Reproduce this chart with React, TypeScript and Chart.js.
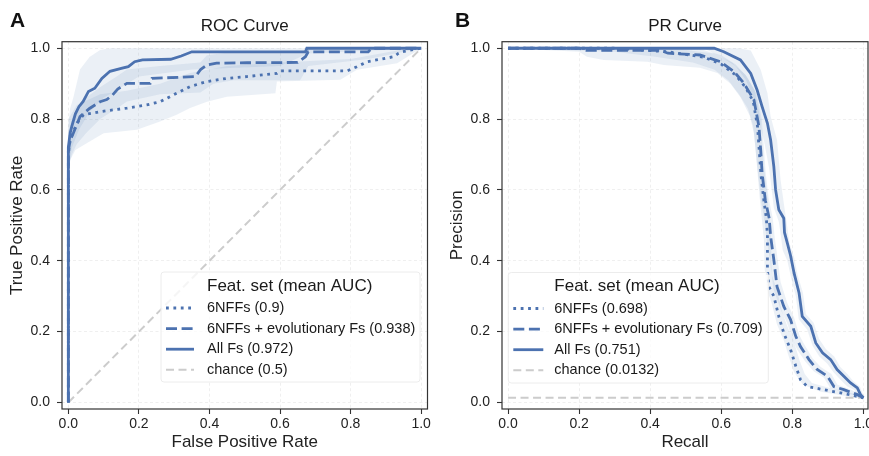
import React, { useEffect, useRef } from 'react';
import { Chart, registerables } from 'chart.js';

Chart.register(...registerables);

const FONT = "'Liberation Sans', Arial, Helvetica, sans-serif";
Chart.defaults.font.family = FONT;

const BLUE = '#4C72B0';
const BAND = 'rgba(76, 114, 176, 0.11)';
const CHANCE = '#cccccc';

const tickValues = [0, 0.2, 0.4, 0.6, 0.8, 1.0];

// ---------- ROC curve ----------
const rocLegendLabels = ['6NFFs (0.9)', '6NFFs + evolutionary Fs (0.938)', 'All Fs (0.972)', 'chance (0.5)'];

const rocNffX = [0, 0, 0.005, 0.024, 0.043, 0.09, 0.166, 0.222, 0.26, 0.307, 0.345, 0.393, 0.449, 0.506, 0.591, 0.6, 0.79, 0.818, 0.847, 0.885, 0.922, 0.936, 0.945, 1];
const rocNffY = [0, 0.7, 0.741, 0.788, 0.812, 0.821, 0.831, 0.84, 0.849, 0.873, 0.892, 0.906, 0.915, 0.92, 0.929, 0.936, 0.936, 0.948, 0.962, 0.969, 0.976, 0.986, 0.99, 1];

const rocEvoX = [0, 0, 0.005, 0.014, 0.033, 0.06, 0.09, 0.109, 0.125, 0.14, 0.166, 0.232, 0.237, 0.36, 0.375, 0.393, 0.42, 0.506, 0.65, 0.672, 0.68, 0.85, 0.86, 1];
const rocEvoY = [0, 0.71, 0.74, 0.76, 0.807, 0.83, 0.849, 0.855, 0.868, 0.885, 0.901, 0.901, 0.915, 0.92, 0.94, 0.953, 0.958, 0.959, 0.96, 0.976, 0.99, 0.99, 1, 1];

const rocAllX = [0, 0, 0.005, 0.01, 0.02, 0.03, 0.042, 0.057, 0.075, 0.095, 0.118, 0.15, 0.17, 0.188, 0.21, 0.29, 0.32, 0.35, 0.672, 0.676, 1];
const rocAllY = [0, 0.72, 0.76, 0.78, 0.815, 0.835, 0.85, 0.878, 0.887, 0.915, 0.935, 0.943, 0.948, 0.962, 0.967, 0.969, 0.978, 0.99, 0.99, 1, 1];

const rocChanceX = [0, 1];
const rocChanceY = [0, 1];

// std bands (upper / lower edges)
const rocNffHiX = [0, 0.024, 0.09, 0.166, 0.26, 0.345, 0.45, 0.6, 0.8, 0.94, 1];
const rocNffHiY = [0.8, 0.84, 0.87, 0.88, 0.9, 0.93, 0.95, 0.96, 0.97, 0.995, 1];
const rocNffLoX = [0, 0.005, 0.02, 0.052, 0.1, 0.194, 0.26, 0.307, 0.345, 0.393, 0.449, 0.587, 0.591, 0.771, 0.818, 0.932, 1];
const rocNffLoY = [0.64, 0.684, 0.713, 0.732, 0.76, 0.77, 0.793, 0.812, 0.831, 0.849, 0.863, 0.873, 0.906, 0.911, 0.939, 0.958, 1];

const rocEvoHiX = [0, 0.01, 0.024, 0.05, 0.09, 0.137, 0.166, 0.26, 0.374, 0.393, 0.47, 0.66, 0.68, 1];
const rocEvoHiY = [0.76, 0.8, 0.83, 0.86, 0.89, 0.92, 0.94, 0.95, 0.96, 0.98, 0.99, 0.99, 1, 1];
const rocEvoLoX = [0, 0.01, 0.024, 0.05, 0.09, 0.137, 0.166, 0.26, 0.374, 0.411, 0.468, 0.657, 0.68, 0.85, 1];
const rocEvoLoY = [0.66, 0.7, 0.73, 0.76, 0.8, 0.83, 0.85, 0.87, 0.875, 0.9, 0.91, 0.91, 0.95, 0.97, 1];

const rocAllHiX = [0, 0.005, 0.014, 0.033, 0.06, 0.09, 0.12, 1];
const rocAllHiY = [0.78, 0.83, 0.86, 0.94, 0.975, 0.995, 1, 1];
const rocAllLoX = [0, 0.01, 0.03, 0.06, 0.1, 0.15, 0.2, 0.35, 0.6, 0.68, 1];
const rocAllLoY = [0.66, 0.72, 0.77, 0.82, 0.86, 0.89, 0.92, 0.94, 0.95, 0.985, 1];

// ---------- PR curve ----------
const prLegendLabels = ['6NFFs (0.698)', '6NFFs + evolutionary Fs (0.709)', 'All Fs (0.751)', 'chance (0.0132)'];

const prNffX = [0, 0.3, 0.45, 0.55, 0.6, 0.64, 0.668, 0.69, 0.702, 0.707, 0.712, 0.72, 0.727, 0.73, 0.73, 0.734, 0.748, 0.762, 0.776, 0.795, 0.81, 0.823, 0.842, 0.889, 0.936, 0.983, 1];
const prNffY = [1, 1, 0.99, 0.975, 0.955, 0.925, 0.89, 0.85, 0.78, 0.71, 0.64, 0.57, 0.52, 0.469, 0.375, 0.327, 0.3, 0.243, 0.196, 0.149, 0.102, 0.064, 0.045, 0.036, 0.027, 0.017, 0.0132];

const prEvoX = [0, 0.2, 0.22, 0.43, 0.45, 0.54, 0.598, 0.636, 0.664, 0.692, 0.706, 0.711, 0.715, 0.724, 0.735, 0.739, 0.748, 0.757, 0.776, 0.795, 0.81, 0.823, 0.847, 0.87, 0.899, 0.917, 0.945, 0.983, 1];
const prEvoY = [1, 1, 0.994, 0.994, 0.986, 0.981, 0.962, 0.934, 0.901, 0.854, 0.779, 0.713, 0.647, 0.571, 0.52, 0.469, 0.403, 0.327, 0.271, 0.234, 0.186, 0.158, 0.121, 0.093, 0.074, 0.045, 0.036, 0.022, 0.0132];

const prAllX = [0, 0.58, 0.607, 0.654, 0.683, 0.701, 0.715, 0.73, 0.739, 0.748, 0.753, 0.762, 0.776, 0.778, 0.786, 0.795, 0.805, 0.819, 0.828, 0.852, 0.866, 0.885, 0.908, 0.926, 0.945, 0.964, 0.983, 0.992, 1];
const prAllY = [1, 1, 0.99, 0.967, 0.929, 0.882, 0.835, 0.788, 0.741, 0.666, 0.6, 0.544, 0.52, 0.48, 0.45, 0.415, 0.365, 0.309, 0.243, 0.215, 0.168, 0.14, 0.121, 0.093, 0.074, 0.055, 0.041, 0.022, 0.0132];

const prChanceX = [0, 1];
const prChanceY = [0.0132, 0.0132];

const prNffHiX = [0, 0.3, 0.5, 0.58, 0.63, 0.668, 0.695, 0.71, 0.716, 0.722, 0.73, 0.736, 0.74, 0.742, 0.756, 0.77, 0.786, 0.805, 0.82, 0.835, 0.855, 0.9, 0.95, 1];
const prNffHiY = [1, 1, 0.995, 0.985, 0.96, 0.925, 0.88, 0.8, 0.72, 0.65, 0.58, 0.52, 0.46, 0.36, 0.32, 0.26, 0.215, 0.17, 0.12, 0.08, 0.055, 0.042, 0.03, 0.018];
const prNffLoX = [0, 0.3, 0.42, 0.52, 0.58, 0.62, 0.65, 0.675, 0.69, 0.696, 0.702, 0.708, 0.715, 0.72, 0.722, 0.728, 0.742, 0.757, 0.776, 0.79, 0.805, 0.83, 0.88, 0.93, 0.98, 1];
const prNffLoY = [1, 0.99, 0.975, 0.96, 0.94, 0.91, 0.87, 0.83, 0.78, 0.72, 0.65, 0.58, 0.51, 0.46, 0.38, 0.32, 0.28, 0.22, 0.175, 0.13, 0.085, 0.05, 0.03, 0.022, 0.013, 0.01];

const prEvoHiX = [0, 0.2, 0.45, 0.55, 0.6, 0.64, 0.672, 0.7, 0.714, 0.72, 0.725, 0.733, 0.745, 0.75, 0.758, 0.767, 0.786, 0.805, 0.82, 0.833, 0.857, 0.88, 0.91, 0.927, 0.955, 0.99, 1];
const prEvoHiY = [1, 1, 1, 0.995, 0.98, 0.955, 0.92, 0.87, 0.8, 0.72, 0.65, 0.58, 0.52, 0.47, 0.41, 0.34, 0.28, 0.24, 0.19, 0.165, 0.125, 0.1, 0.08, 0.05, 0.04, 0.025, 0.015];
const prEvoLoX = [0, 0.2, 0.222, 0.269, 0.392, 0.438, 0.54, 0.589, 0.626, 0.655, 0.68, 0.692, 0.698, 0.704, 0.712, 0.722, 0.728, 0.737, 0.747, 0.766, 0.785, 0.8, 0.813, 0.837, 0.86, 0.889, 0.907, 0.935, 0.973, 1];
const prEvoLoY = [1, 0.99, 0.976, 0.967, 0.962, 0.953, 0.945, 0.93, 0.9, 0.86, 0.81, 0.76, 0.7, 0.64, 0.57, 0.51, 0.46, 0.4, 0.32, 0.265, 0.225, 0.18, 0.15, 0.115, 0.088, 0.07, 0.04, 0.032, 0.02, 0.01];

const prAllHiX = [0, 0.6, 0.65, 0.683, 0.711, 0.73, 0.739, 0.757, 0.767, 0.776, 0.785, 0.792, 0.805, 0.815, 0.83, 0.838, 0.86, 0.875, 0.895, 0.918, 0.935, 0.955, 0.972, 0.99, 1];
const prAllHiY = [1, 1, 1, 0.994, 0.939, 0.873, 0.807, 0.741, 0.628, 0.563, 0.5, 0.45, 0.41, 0.36, 0.31, 0.25, 0.225, 0.18, 0.15, 0.13, 0.1, 0.08, 0.06, 0.045, 0.02];
const prAllLoX = [0, 0.55, 0.6, 0.64, 0.67, 0.69, 0.705, 0.72, 0.735, 0.742, 0.748, 0.762, 0.768, 0.773, 0.786, 0.797, 0.81, 0.818, 0.842, 0.857, 0.876, 0.898, 0.916, 0.935, 0.955, 0.975, 0.985, 1];
const prAllLoY = [1, 1, 0.975, 0.95, 0.91, 0.86, 0.8, 0.74, 0.66, 0.6, 0.55, 0.51, 0.47, 0.43, 0.4, 0.35, 0.3, 0.235, 0.205, 0.16, 0.13, 0.11, 0.085, 0.065, 0.045, 0.035, 0.015, 0.01];

// ---------- helpers ----------
const pts = (xs: number[], ys: number[]) => xs.map((x, i) => ({ x, y: ys[i] }));
const poly = (hx: number[], hy: number[], lx: number[], ly: number[]) => [...pts(hx, hy), ...pts(lx, ly).reverse()];

const lineStyles = [
  { dash: [2.8, 4.6], color: BLUE, width: 2.8 },
  { dash: [11, 4.6], color: BLUE, width: 2.8 },
  { dash: [] as number[], color: BLUE, width: 2.8 },
  { dash: [8, 4.5], color: CHANCE, width: 2 },
];

function lineDs(data: any[], styleIdx: number, order: number, label: string) {
  const st = lineStyles[styleIdx];
  return {
    label,
    data,
    showLine: true,
    fill: false,
    borderColor: st.color,
    borderWidth: st.width,
    borderDash: st.dash,
    borderCapStyle: 'butt',
    pointRadius: 0,
    tension: 0,
    order,
  };
}

function bandDs(data: any[]) {
  return {
    data,
    showLine: true,
    fill: 'shape',
    backgroundColor: BAND,
    borderWidth: 0,
    borderColor: 'rgba(0,0,0,0)',
    pointRadius: 0,
    tension: 0,
    order: 10,
  };
}

const decorPlugin = {
  id: 'decor',
  afterDatasetsDraw(chart: any, _args: any, opts: any) {
    const { ctx, chartArea: a } = chart;
    ctx.save();
    const w = opts.legendW;
    const h = opts.legendH;
    const bx = opts.legendSide === 'right' ? a.right - opts.legendDX - w : a.left + opts.legendDX;
    const by = a.bottom - opts.legendDY - h;
    ctx.beginPath();
    if (ctx.roundRect) ctx.roundRect(bx, by, w, h, 3);
    else ctx.rect(bx, by, w, h);
    ctx.fillStyle = 'rgba(255,255,255,0.8)';
    ctx.fill();
    ctx.strokeStyle = '#ececec';
    ctx.lineWidth = 1;
    ctx.stroke();

    ctx.fillStyle = '#1a1a1a';
    ctx.textBaseline = 'middle';
    ctx.textAlign = 'left';
    ctx.font = `17px ${FONT}`;
    ctx.fillText(opts.legendTitle, bx + 46, by + 14);
    ctx.font = `14.5px ${FONT}`;
    opts.labels.forEach((lab: string, i: number) => {
      const y = by + 36 + i * 20.6;
      const st = lineStyles[i];
      ctx.beginPath();
      ctx.setLineDash(st.dash);
      ctx.strokeStyle = st.color;
      ctx.lineWidth = st.width;
      ctx.lineCap = 'butt';
      ctx.moveTo(bx + 5, y);
      ctx.lineTo(bx + 5 + opts.sampleLen, y);
      ctx.stroke();
      ctx.setLineDash([]);
      ctx.fillStyle = '#1a1a1a';
      ctx.fillText(lab, bx + 46, y);
    });

    // axes frame
    ctx.strokeStyle = '#333';
    ctx.lineWidth = 1.2;
    ctx.strokeRect(a.left, a.top, a.right - a.left, a.bottom - a.top);

    // panel letter
    ctx.font = `bold 21px ${FONT}`;
    ctx.fillStyle = '#111';
    ctx.fillText(opts.letter, opts.letterX, 21);
    ctx.restore();
  },
};

function axis(min: number, max: number, title: string, horizontal: boolean) {
  return {
    type: 'linear',
    position: horizontal ? 'bottom' : 'left',
    min,
    max,
    afterBuildTicks: (s: any) => {
      s.ticks = tickValues.map((v) => ({ value: v }));
    },
    ticks: {
      callback: (v: any) => Number(v).toFixed(1),
      color: '#222',
      font: { size: 14, family: FONT },
      padding: horizontal ? 2 : 7,
      maxRotation: 0,
      autoSkip: false,
    },
    grid: {
      color: '#ebebeb',
      lineWidth: 0.8,
      tickColor: '#333',
      tickLength: 5,
      tickWidth: 1.1,
      tickBorderDash: [],
    },
    border: { display: false, dash: [3, 2.5] },
    title: {
      display: true,
      text: title,
      color: '#222',
      font: { size: 17, family: FONT },
      padding: horizontal ? { top: 0, bottom: 3.8 } : { top: 7, bottom: 0 },
    },
    afterFit: (s: any) => {
      if (horizontal) s.height = 47;
      else s.width = 62;
      s.paddingLeft = 0;
      s.paddingRight = 0;
      s.paddingTop = 0;
      s.paddingBottom = 0;
    },
  };
}

function makeConfig(p: any): any {
  return {
    type: 'scatter',
    data: { datasets: p.datasets },
    options: {
      animation: false,
      responsive: false,
      events: [],
      layout: { padding: { left: 0, right: p.padRight, top: 0, bottom: 0 } },
      plugins: {
        legend: { display: false },
        tooltip: { enabled: false },
        title: {
          display: true,
          text: p.title,
          fullSize: false,
          color: '#1a1a1a',
          font: { size: 17, weight: 'normal', family: FONT },
          padding: { top: 16.5, bottom: 4.8 },
        },
        decor: p.decor,
      },
      scales: {
        x: axis(p.xMin, p.xMax, p.xTitle, true),
        y: axis(-0.0185, 1.0185, p.yTitle, false),
      },
    },
    plugins: [decorPlugin],
  };
}

export default function App() {
  const rocRef = useRef<HTMLCanvasElement>(null);
  const prRef = useRef<HTMLCanvasElement>(null);

  useEffect(() => {
    const roc = new Chart(rocRef.current as HTMLCanvasElement, makeConfig({
      title: 'ROC Curve',
      xTitle: 'False Positive Rate',
      yTitle: 'True Positive Rate',
      xMin: -0.018,
      xMax: 1.018,
      padRight: 12.5,
      datasets: [
        lineDs(pts(rocAllX, rocAllY), 2, 1, rocLegendLabels[2]),
        lineDs(pts(rocEvoX, rocEvoY), 1, 2, rocLegendLabels[1]),
        lineDs(pts(rocNffX, rocNffY), 0, 3, rocLegendLabels[0]),
        lineDs(pts(rocChanceX, rocChanceY), 3, 4, rocLegendLabels[3]),
        bandDs(poly(rocNffHiX, rocNffHiY, rocNffLoX, rocNffLoY)),
        bandDs(poly(rocEvoHiX, rocEvoHiY, rocEvoLoX, rocEvoLoY)),
        bandDs(poly(rocAllHiX, rocAllHiY, rocAllLoX, rocAllLoY)),
      ],
      decor: {
        legendSide: 'right',
        legendDX: 7.5,
        legendDY: 27,
        legendW: 259,
        legendH: 110,
        sampleLen: 28,
        legendTitle: 'Feat. set (mean AUC)',
        labels: rocLegendLabels,
        letter: 'A',
        letterX: 10,
      },
    }));

    const pr = new Chart(prRef.current as HTMLCanvasElement, makeConfig({
      title: 'PR Curve',
      xTitle: 'Recall',
      yTitle: 'Precision',
      xMin: -0.017,
      xMax: 1.013,
      padRight: 2,
      datasets: [
        lineDs(pts(prAllX, prAllY), 2, 1, prLegendLabels[2]),
        lineDs(pts(prEvoX, prEvoY), 1, 2, prLegendLabels[1]),
        lineDs(pts(prNffX, prNffY), 0, 3, prLegendLabels[0]),
        lineDs(pts(prChanceX, prChanceY), 3, 4, prLegendLabels[3]),
        bandDs(poly(prNffHiX, prNffHiY, prNffLoX, prNffLoY)),
        bandDs(poly(prEvoHiX, prEvoHiY, prEvoLoX, prEvoLoY)),
        bandDs(poly(prAllHiX, prAllHiY, prAllLoX, prAllLoY)),
      ],
      decor: {
        legendSide: 'left',
        legendDX: 6.3,
        legendDY: 26,
        legendW: 260,
        legendH: 110.5,
        sampleLen: 30,
        legendTitle: 'Feat. set (mean AUC)',
        labels: prLegendLabels,
        letter: 'B',
        letterX: 15,
      },
    }));

    return () => {
      roc.destroy();
      pr.destroy();
    };
  }, []);

  return (
    <div style={{ position: 'fixed', left: 0, top: 0, width: 869, height: 456, overflow: 'hidden', background: '#fff' }}>
      <canvas ref={rocRef} width={440} height={456} style={{ position: 'absolute', left: 0, top: 0, width: 440, height: 456 }} />
      <canvas ref={prRef} width={430} height={456} style={{ position: 'absolute', left: 440, top: 0, width: 430, height: 456 }} />
    </div>
  );
}
